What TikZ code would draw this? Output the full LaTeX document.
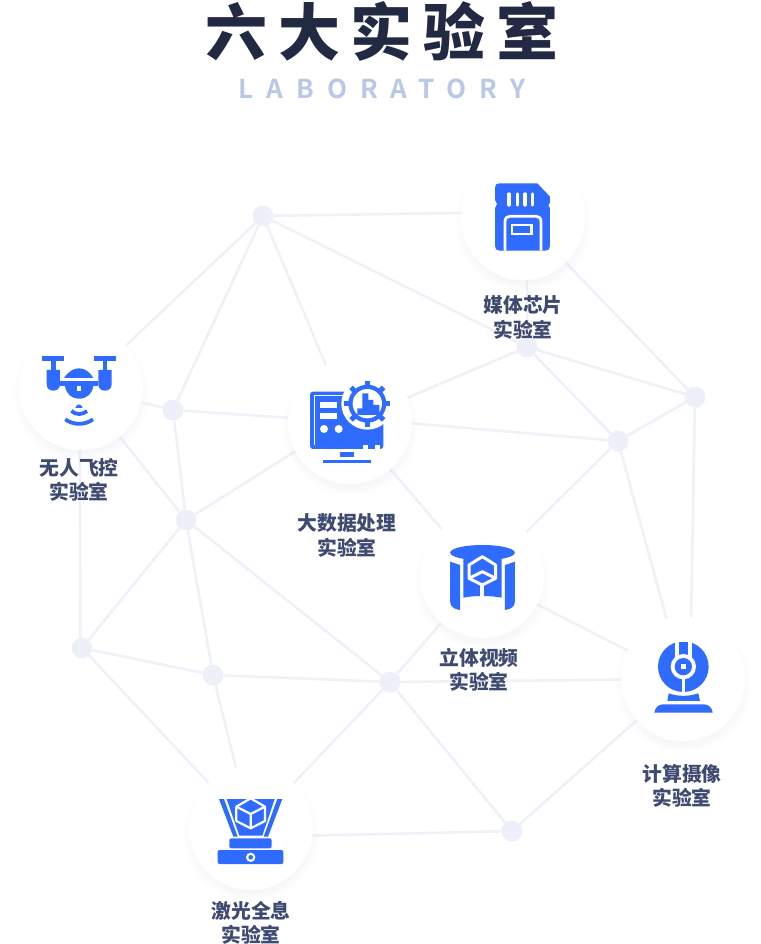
\documentclass[tikz,border=0pt]{standalone}
\usepackage{fontspec}
\usetikzlibrary{shadows,backgrounds}
\newfontfamily\cnfont{Noto Sans CJK SC}
\newfontfamily\titlefont[LetterSpace=17]{Noto Sans CJK SC Black}
\newfontfamily\engfont[LetterSpace=50]{Noto Sans CJK SC Bold}
\definecolor{iconblue}{HTML}{2F6BFF}
\definecolor{linegray}{HTML}{EFF1F8}
\definecolor{dotgray}{HTML}{EDF0F8}
\definecolor{labelblue}{HTML}{3F4A70}
\definecolor{titledark}{HTML}{212943}
\definecolor{engblue}{HTML}{B8C8E8}
\tikzset{
  labdot/.style={circle,fill=dotgray,inner sep=0pt,minimum size=21pt},
  labcircle/.style={circle,fill=white,inner sep=0pt,minimum size=124pt,
    circular drop shadow={shadow xshift=0pt,shadow yshift=-5pt,shadow scale=1.1,opacity=0.22,fill=dotgray!70!black!30!dotgray}},
  labtext/.style={align=center,text=labelblue,font=\cnfont\bfseries\fontsize{19.8}{24.5}\selectfont},
  linkline/.style={draw=linegray,line width=2.6pt},
  iconpart/.style={shift={#1},x=0.3333pt,y=-0.3333pt}
}
\begin{document}
\begin{tikzpicture}[x=1pt,y=-1pt]
    \useasboundingbox (0,0) rectangle (760,944);
    %title
    \node (title) at (382,31) {\titlefont\fontsize{62}{62}\selectfont\color{titledark}六大实验室};
    \node (eng) at (382,89) {\engfont\fontsize{26}{26}\selectfont\color{engblue}LABORATORY};
    %dots
    \node[labdot] (a) at (263,216) {};
    \node[labdot] (b) at (173,410) {};
    \node[labdot] (c) at (186,520) {};
    \node[labdot] (d) at (82,648) {};
    \node[labdot] (e) at (213,675) {};
    \node[labdot] (f) at (390,682) {};
    \node[labdot] (g) at (512,831) {};
    \node[labdot] (h) at (527,347) {};
    \node[labdot] (i) at (618,441) {};
    \node[labdot] (j) at (695,397) {};
    %circles
    \node[labcircle] (sd) at (523,218) {};
    \node[labcircle] (drone) at (81,388) {};
    \node[labcircle] (data) at (350,422) {};
    \node[labcircle] (cyl) at (482,576) {};
    \node[labcircle] (cam) at (683,679) {};
    \node[labcircle] (holo) at (251,828) {};
    %labels
    \node[labtext] (sdtext) at (523,317.5) {媒体芯片\\实验室};
    \node[labtext] (dronetext) at (79,480) {无人飞控\\实验室};
    \node[labtext] (datatext) at (347,535.5) {大数据处理\\实验室};
    \node[labtext] (cyltext) at (479,670) {立体视频\\实验室};
    \node[labtext] (camtext) at (682,786) {计算摄像\\实验室};
    \node[labtext] (holotext) at (251,923) {激光全息\\实验室};
    %links
    \begin{scope}[on background layer]
    \foreach \p/\q in {a/drone,a/b,a/data,a/h,sd/j,h/j,h/i,h/data,j/i,i/cyl,i/cam,
        drone/b,drone/c,b/data,b/c,c/d,c/e,c/f,d/e,d/holo,e/f,e/holo,f/cyl,f/cam,f/holo,f/g,
        data/cyl,cyl/cam,cam/g}
    \draw[linkline] (\p) -- (\q);
    \draw[linkline] (a) -- ([yshift=6pt]sd.center);
    \draw[linkline] ([xshift=4pt]sd.center) -- (h);
    \draw[linkline] (j) -- ([xshift=7pt]cam.center);
    \draw[linkline] ([xshift=-1.5pt]drone.center) -- ([xshift=-1.5pt]d.center);
    \draw[linkline] ([yshift=-9pt]holo.center) -- (g);
    \draw[linkline] (i) -- ([yshift=4pt]data.center);
    \draw[linkline] (c) -- ([yshift=5pt]data.center);
    \end{scope}
    %sd card
    \begin{scope}[iconpart={(450,150)}]
    \fill[iconblue] (148,100) -- (262,100) -- (300,140) -- (300,158) -- (295,166) -- (300,175) -- (300,288)
        .. controls (300,297) and (295,302) .. (286,302) -- (149,302) .. controls (140,302) and (135,297) .. (135,288)
        -- (135,175) -- (141,162) -- (135,150) -- (135,113) .. controls (135,104) and (140,100) .. (148,100) -- cycle;
    \foreach \x in {177,202,225,248}
    \draw[white,line width=3.4pt,line cap=round] (\x,132) -- (\x,165);
    \draw[white,line width=2.8pt] (165,302) -- (165,215) .. controls (165,204) and (171,199) .. (180,199)
        -- (258,199) .. controls (267,199) and (273,204) .. (273,215) -- (273,302);
    \draw[white,line width=2.6pt] (186,225) rectangle (245,252);
    \end{scope}
    %drone
    \begin{scope}[iconpart={(10,320)}]
    \fill[iconblue] (97,108) rectangle (162,122);
    \fill[iconblue] (252,108) rectangle (318,122);
    \fill[iconblue] (123,122) rectangle (137,150);
    \fill[iconblue] (278,122) rectangle (292,150);
    \foreach \x in {130,285}
    \fill[iconblue] (\x-20,150) -- (\x+20,150) -- (\x+20,192) .. controls (\x+20,205) and (\x+12,212) .. (\x,212)
        .. controls (\x-12,212) and (\x-20,205) .. (\x-20,192) -- cycle;
    \fill[iconblue] (150,184) rectangle (265,197);
    \fill[iconblue] (162,174) .. controls (175,155) and (190,145) .. (207,145) .. controls (224,145) and (239,155) .. (250,174) -- cycle;
    \fill[iconblue] (165,197) .. controls (168,222) and (185,236) .. (207,236) .. controls (230,236) and (247,222) .. (250,197) -- cycle;
    \fill[white] (200,199) rectangle (214,212);
    \fill[iconblue] (196,264) .. controls (200,250) and (214,250) .. (218,264) -- cycle;
    \draw[iconblue,line width=3.8pt] (184,273) .. controls (197,285) and (218,285) .. (231,273);
    \draw[iconblue,line width=3.8pt] (166,298) .. controls (190,316) and (225,316) .. (249,298);
    \end{scope}
    %big data
    \begin{scope}[iconpart={(280,360)}]
    \fill[iconblue,rounded corners=3pt] (90,95) rectangle (310,267);
    \draw[white,line width=1pt] (210,107) -- (103,107) -- (103,255);
    \fill[white] (120,125) rectangle (170,145);
    \fill[white] (120,158) rectangle (170,178);
    \fill[white] (132,207) circle (12);
    \fill[white] (176,207) circle (12);
    \fill[white] (250,255) rectangle (265,267);
    \fill[white] (285,255) rectangle (300,267);
    \fill[iconblue] (180,275) rectangle (222,292);
    \fill[iconblue] (128,300) rectangle (272,308);
    \fill[white] (262,131) circle (78);
    \foreach \t in {0,45,...,315}
    \draw[iconblue,line width=5pt] (262,131) -- ++(\t:69);
    \fill[iconblue] (262,131) circle (57);
    \fill[white] (262,131) circle (44);
    \fill[iconblue] (232,165) -- (232,145) -- (247,145) -- (247,100) -- (265,100) -- (265,120) -- (280,120)
        -- (280,135) -- (298,135) -- (298,165) -- cycle;
    \end{scope}
    %cylinder
    \begin{scope}[iconpart={(415,515)}]
    \fill[iconblue] (105,140) -- (135,150) -- (135,285) .. controls (118,283) and (105,275) .. (105,258) -- cycle;
    \fill[iconblue] (300,140) -- (270,150) -- (270,285) .. controls (287,283) and (300,275) .. (300,258) -- cycle;
    \fill[iconblue] (145,130) -- (260,130) -- (260,248) .. controls (243,245) and (225,243) .. (208,243) -- (196,243)
        .. controls (179,243) and (161,245) .. (145,248) -- cycle;
    \fill[iconblue] (202.5,113) ellipse (97 and 23);
    \draw[white,line width=3pt,line join=round] (202,125) -- (242,150) -- (242,190) -- (202,210) -- (162,190) -- (162,150) -- cycle;
    \draw[white,line width=3pt,line join=round] (162,190) -- (202,170) -- (242,190);
    \fill[white] (196,208) rectangle (208,245);
    \end{scope}
    %camera
    \begin{scope}[iconpart={(615,615)}]
    \fill[iconblue] (205,155) circle (76);
    \fill[white] (180,70) rectangle (232,130);
    \fill[iconblue] (193,80) rectangle (219,130);
    \fill[white] (205,155) circle (38);
    \fill[iconblue] (205,155) circle (26);
    \fill[white] (198,148) rectangle (212,162);
    \fill[white] (200,188) rectangle (210,235);
    \fill[iconblue] (161,235) .. controls (190,245) and (220,245) .. (250,235) -- (255,258) -- (157,258) -- cycle;
    \fill[iconblue] (118,293) .. controls (120,278) and (130,268) .. (145,268) -- (266,268) .. controls (281,268) and (291,278) .. (293,293) -- cycle;
    \end{scope}
    %hologram
    \begin{scope}[iconpart={(185,765)}]
    \fill[iconblue] (102,102) -- (117,102) -- (158,215) -- (145,215) -- cycle;
    \fill[iconblue] (292,102) -- (277,102) -- (236,215) -- (249,215) -- cycle;
    \fill[iconblue] (125,102) -- (269,102) -- (232,212) -- (163,212) -- cycle;
    \draw[white,line width=2.2pt,line join=round] (197,100) -- (240,125) -- (240,168) -- (197,190) -- (154,168) -- (154,125) -- cycle;
    \draw[white,line width=2.2pt,line join=round] (154,125) -- (197,147) -- (240,125) (197,147) -- (197,190);
    \fill[iconblue,rounded corners=2pt] (133,250) -- (133,220) -- (260,220) -- (260,250) -- cycle;
    \fill[iconblue,rounded corners=2pt] (98,297) -- (98,255) -- (295,255) -- (295,297) -- cycle;
    \fill[white] (197,277) circle (14);
    \fill[iconblue] (197,277) circle (7);
    \end{scope}
\end{tikzpicture}
\end{document}
